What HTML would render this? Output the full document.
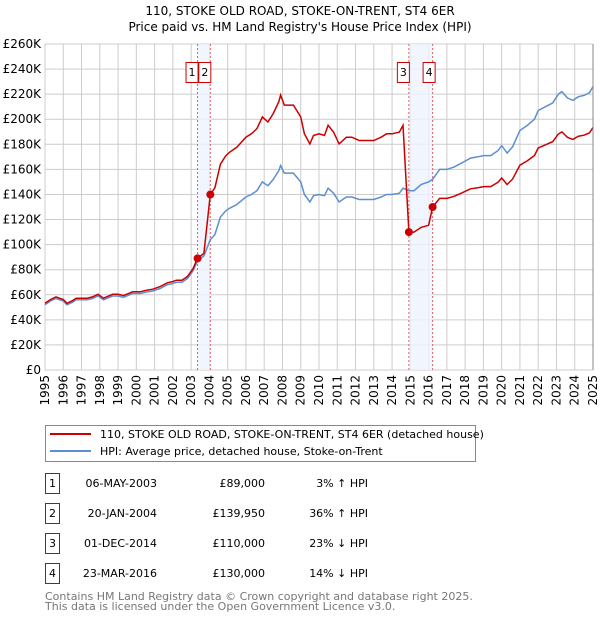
<!DOCTYPE html>
<html><head><meta charset="utf-8"><style>
body{margin:0;background:#fff;font-family:"Liberation Sans","DejaVu Sans",sans-serif;}
svg text{font-family:"DejaVu Sans","Liberation Sans",sans-serif;}
</style></head><body>
<svg id="c" width="600" height="620" xmlns="http://www.w3.org/2000/svg">
<text x="300" y="15" text-anchor="middle" font-size="12" fill="#000">110, STOKE OLD ROAD, STOKE-ON-TRENT, ST4 6ER</text>
<text x="300" y="31" text-anchor="middle" font-size="12" fill="#000">Price paid vs. HM Land Registry's House Price Index (HPI)</text>
<g id="grid"></g><g id="bands"></g><g id="lines"></g><g id="axes"></g>
<g>
<rect x="45.5" y="425.5" width="430" height="36" fill="#fff" stroke="#888"/>
<line x1="50" y1="434" x2="91" y2="434" stroke="#cc0000" stroke-width="2"/>
<text x="100" y="438" font-size="11">110, STOKE OLD ROAD, STOKE-ON-TRENT, ST4 6ER (detached house)</text>
<line x1="50" y1="451" x2="91" y2="451" stroke="#5b8fd1" stroke-width="2"/>
<text x="100" y="455" font-size="11">HPI: Average price, detached house, Stoke-on-Trent</text>
</g>
<g id="table" font-size="11"></g>
<text x="45" y="600" font-size="11" fill="#777">Contains HM Land Registry data © Crown copyright and database right 2025.</text>
<text x="45" y="610" font-size="11" fill="#777">This data is licensed under the Open Government Licence v3.0.</text>
</svg>
<script>
const hpiYears=[1995.0,1995.3,1995.6,1996.0,1996.2,1996.5,1996.7,1997.0,1997.3,1997.6,1997.9,1998.2,1998.7,1999.0,1999.3,1999.8,2000.2,2000.5,2000.9,2001.3,2001.7,2002.0,2002.2,2002.5,2002.8,2003.1,2003.35,2003.7,2004.05,2004.3,2004.6,2004.9,2005.1,2005.5,2006.0,2006.3,2006.6,2006.9,2007.2,2007.5,2007.8,2007.9,2008.1,2008.4,2008.6,2009.0,2009.2,2009.5,2009.7,2010.0,2010.3,2010.5,2010.8,2011.1,2011.5,2011.8,2012.2,2012.6,2013.0,2013.4,2013.7,2014.0,2014.4,2014.6,2014.92,2015.2,2015.6,2016.0,2016.22,2016.6,2017.0,2017.4,2017.8,2018.3,2018.7,2019.0,2019.4,2019.8,2020.0,2020.3,2020.6,2021.0,2021.4,2021.8,2022.0,2022.4,2022.8,2023.1,2023.3,2023.6,2023.9,2024.2,2024.5,2024.8,2025.0];
const hpiValues=[52,55,57,55,52,54,56,56,56,57,59,56,59,59,58,61,61,62,63,65,68,69,70,70,73,79,87,91,104,108,122,127,129,132,138,140,143,150,147,152,159,163,157,157,157,150,140,134,139,140,139,145,141,134,138,138,136,136,136,138,140,140,141,145,143,143,148,150,152,160,160,162,165,169,170,171,171,175,179,173,178,191,195,200,207,210,213,220,222,217,215,218,219,221,226];
const saleYears=[2003.35,2004.05,2014.92,2016.22];
const saleValues=[89,139.95,110,130];
const saleLabels=["1","2","3","4"];
const saleDates=["06-MAY-2003","20-JAN-2004","01-DEC-2014","23-MAR-2016"];
const salePrices=["£89,000","£139,950","£110,000","£130,000"];
const saleHpi=["3% ↑ HPI","36% ↑ HPI","23% ↓ HPI","14% ↓ HPI"];
const yTicks=[0,20,40,60,80,100,120,140,160,180,200,220,240,260];
const xTicks=[1995,1996,1997,1998,1999,2000,2001,2002,2003,2004,2005,2006,2007,2008,2009,2010,2011,2012,2013,2014,2015,2016,2017,2018,2019,2020,2021,2022,2023,2024,2025];

const L=45,R=593,T=44,B=370;
const X=y=>L+(y-1995)*(R-L)/30;
const Y=v=>B-v*(B-T)/260;
const NS="http://www.w3.org/2000/svg";
function mk(p,tag,at){const e=document.createElementNS(NS,tag);for(const k in at)e.setAttribute(k,at[k]);p.appendChild(e);return e;}
const g=document.getElementById('grid'),bd=document.getElementById('bands'),ln=document.getElementById('lines'),ax=document.getElementById('axes'),tb=document.getElementById('table');

yTicks.forEach(v=>{
  const l=mk(g,'line',{x1:L,x2:R,y1:Y(v),y2:Y(v),stroke:'#cccccc'});
  
  
  const t=mk(ax,'text',{x:L-4,y:Y(v)+4,'text-anchor':'end','font-size':12});
  t.textContent='£'+v+(v?'K':'');
  
  
});
xTicks.forEach(y=>{
  const l=mk(g,'line',{x1:X(y),x2:X(y),y1:T,y2:B,stroke:'#cccccc'});
  
  
  const t=mk(ax,'text',{x:0,y:0,'text-anchor':'end','font-size':12,transform:`translate(${X(y)+4},${B+5}) rotate(-90)`});
  t.textContent=y;
  
  
});
mk(ax,'line',{x1:R,x2:R,y1:T,y2:B,stroke:'#888'});

function hpiAt(yr){for(let i=1;i<hpiYears.length;i++){if(yr<=hpiYears[i]){const f=(yr-hpiYears[i-1])/(hpiYears[i]-hpiYears[i-1]);return hpiValues[i-1]+f*(hpiValues[i]-hpiValues[i-1]);}}return hpiValues[hpiValues.length-1];}

// bands
[[0,1],[2,3]].forEach(([a,b])=>{
  const r=mk(bd,'rect',{x:X(saleYears[a]),y:T,width:X(saleYears[b])-X(saleYears[a]),height:B-T,fill:'#eef3fc',opacity:0.8});
  
  
});
saleYears.forEach((s,i)=>{
  const l=mk(bd,'line',{x1:X(s),x2:X(s),y1:T,y2:B,stroke:'#e06060','stroke-dasharray':'2,2'});
  
  
});
// label boxes
const boxX=[X(saleYears[0])-12,X(saleYears[1])-12,X(saleYears[2])-12,X(saleYears[3])-10];
saleLabels.forEach((s,i)=>{
  const gg=mk(bd,'g',{});
  
  
  mk(gg,'rect',{x:boxX[i]+0.5,y:62.5,width:12,height:20,fill:'#fff',stroke:'#cc0000'});
  const t=mk(gg,'text',{x:boxX[i]+6.5,y:76,'text-anchor':'middle','font-size':11});t.textContent=s;
});

// HPI line
let d='';hpiYears.forEach((y,i)=>{d+=(i?'L':'M')+X(y).toFixed(1)+','+Y(hpiValues[i]).toFixed(1);});
const hp=mk(ln,'path',{d,fill:'none',stroke:'#5b8fd1','stroke-width':1.5});



// Property line: indexed from each sale by HPI
function segIdx(yr){let k=0;for(let i=0;i<saleYears.length;i++)if(yr>=saleYears[i])k=i;return k;}
let pd='';const pts=[];
hpiYears.forEach(y=>{
  const k=segIdx(y);
  saleYears.forEach((s,i)=>{ if(i>0 && pts.length && pts[pts.length-1][0]<s && y>s){
    const kp=i-1; pts.push([s,saleValues[kp]*hpiAt(s)/hpiAt(saleYears[kp])]); pts.push([s,saleValues[i]]);}});
  pts.push([y,saleValues[k]*hpiAt(y)/hpiAt(saleYears[k])]);
});
pts.forEach((p,i)=>{pd+=(i?'L':'M')+X(p[0]).toFixed(1)+','+Y(p[1]).toFixed(1);});
const pp=mk(ln,'path',{d:pd,fill:'none',stroke:'#cc0000','stroke-width':1.5});


saleYears.forEach((s,i)=>{
  const c=mk(ln,'circle',{cx:X(s),cy:Y(saleValues[i]),r:4,fill:'#cc0000'});
  
  
});

// table
saleLabels.forEach((s,i)=>{
  const y=483+i*30;
  const r=mk(tb,'g',{});
  
  
  mk(r,'rect',{x:45.5,y:y-9.5,width:14,height:20,fill:'#fff',stroke:'#cc0000'});
  let t=mk(r,'text',{x:52.5,y:y+4,'text-anchor':'middle'});t.textContent=s;
  t=mk(r,'text',{x:157,y:y+4,'text-anchor':'end'});t.textContent=saleDates[i];
  t=mk(r,'text',{x:265,y:y+4,'text-anchor':'end'});t.textContent=salePrices[i];
  t=mk(r,'text',{x:368,y:y+4,'text-anchor':'end'});t.textContent=saleHpi[i];
});
</script>
</body></html>
